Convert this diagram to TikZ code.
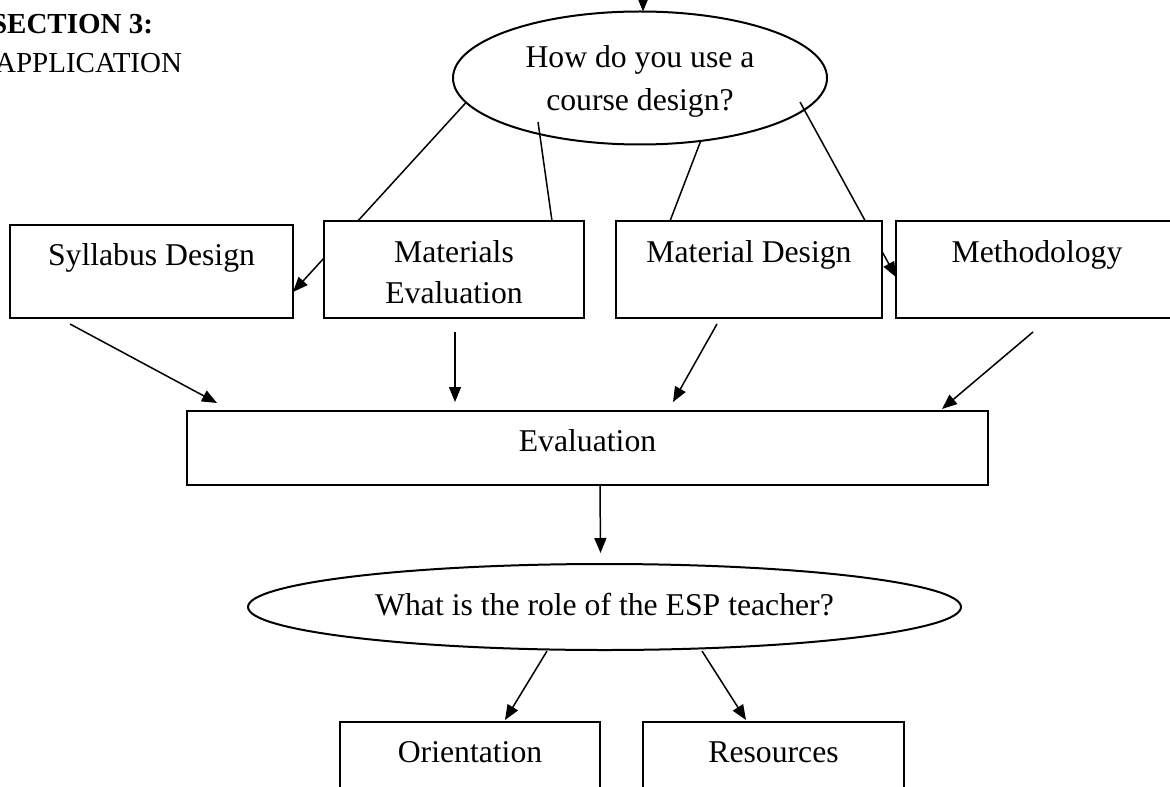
\documentclass[tikz,border=0pt]{standalone}
\usepackage{fontspec}
\setmainfont{Liberation Serif}
\usetikzlibrary{shapes.geometric,arrows.meta,calc}
\pgfdeclarelayer{background}
\pgfsetlayers{background,main}
% two centred lines whose baseline is that of the first line
\newcommand{\stackedlines}[2]{\vtop{\halign{\hfil##\hfil\cr#1\cr#2\cr}}}

\begin{document}
\begin{tikzpicture}[x=0.5pt,y=-0.5pt,
  every node/.style={inner sep=0pt, outer sep=0pt},
  boxnode/.style={draw, line width=1pt, fill=white, rectangle, anchor=north west,
    font=\fontsize{15.85pt}{20.75pt}\selectfont},
  qnode/.style={draw, line width=1pt, ellipse},
  link/.style={line width=0.75pt},
  arrowlink/.style={link, -{Triangle[length=7.5pt,width=6pt]}},
  heading/.style={anchor=base east, font=\fontsize{14.5pt}{17pt}\selectfont}]

\useasboundingbox (0,0) rectangle (1170,786);
\clip (0,0) rectangle (1170,786);

% section heading
\node[heading, font=\fontsize{14.5pt}{17pt}\selectfont\bfseries] (sec) at (153,34) {SECTION 3:};
\node[heading] (app) at (182,72.7) {APPLICATION};

% first question
\node[qnode, minimum width=187pt, minimum height=66.5pt, text height=15pt, text depth=25pt,
  font=\fontsize{15.85pt}{21.5pt}\selectfont] (q1) at (640,78)
  {\stackedlines{How do you use a}{course design?}};

% the four components
\node[boxnode, minimum width=141.5pt, text height=20pt, text depth=26.5pt] (syl) at (10,225) {Syllabus Design};
\node[boxnode, minimum width=130pt, text height=20.5pt, text depth=28pt] (mat) at (324,221) {\stackedlines{Materials}{Evaluation}};
\node[boxnode, minimum width=133pt, text height=20.5pt, text depth=28pt] (mdes) at (616,221) {Material Design};
\node[boxnode, minimum width=141pt, text height=20.5pt, text depth=28pt] (meth) at (896,221) {Methodology};

% evaluation
\node[boxnode, minimum width=400.5pt, text height=20pt, text depth=17pt] (eval) at (187,411) {Evaluation};

% second question
\node[qnode, minimum width=356.5pt, minimum height=43pt, text height=12pt, text depth=4pt,
  font=\fontsize{15.85pt}{20pt}\selectfont] (q2) at (604.5,607)
  {What is the role of the ESP teacher?};

% roles
\node[boxnode, minimum width=130pt, text height=20pt, text depth=34pt] (ori) at (340,722) {Orientation};
\node[boxnode, minimum width=130.5pt, text height=20pt, text depth=34pt] (res) at (643,722) {Resources};

% connectors, kept behind the boxes
\begin{pgfonlayer}{background}
  \coordinate (feed) at (643,-30);
  \draw[arrowlink] (feed) -- ($(q1.north)+(3,0)$);
  \draw[arrowlink] (q1.188.5) -- ($(syl.north east)+(0,67)$);
  \draw[link] ($(q1.center)+(-102,44)$) -- ($(mat.north west)+(228,0)$);
  \draw[link] (q1.314) -- ($(mdes.north west)+(54,0)$);
  \draw[arrowlink] ($(q1.center)+(160,24)$) -- ($(meth.north west)+(0,56)$);

  \draw[arrowlink] ($(syl.south west)+(60,6)$) -- ($(eval.north west)+(30,-8)$);
  \draw[arrowlink] ($(mat.south)+(1,14)$) -- ($(eval.north west)+(268,-9)$);
  \draw[arrowlink] ($(mdes.south west)+(101,6)$) -- ($(eval.north west)+(486,-9)$);
  \draw[arrowlink] ($(meth.south west)+(137,14)$) -- ($(eval.north east)+(-46,-2)$);

  \draw[arrowlink] ($(eval.south)+(12.5,0)$) -- ($(q2.north)+(-4,-11)$);
  \draw[arrowlink] ($(q2.south)+(-57.5,1)$) -- ($(ori.north west)+(165,-2)$);
  \draw[arrowlink] ($(q2.south)+(97.5,1)$) -- ($(res.north west)+(103,-2)$);
\end{pgfonlayer}
\end{tikzpicture}
\end{document}
